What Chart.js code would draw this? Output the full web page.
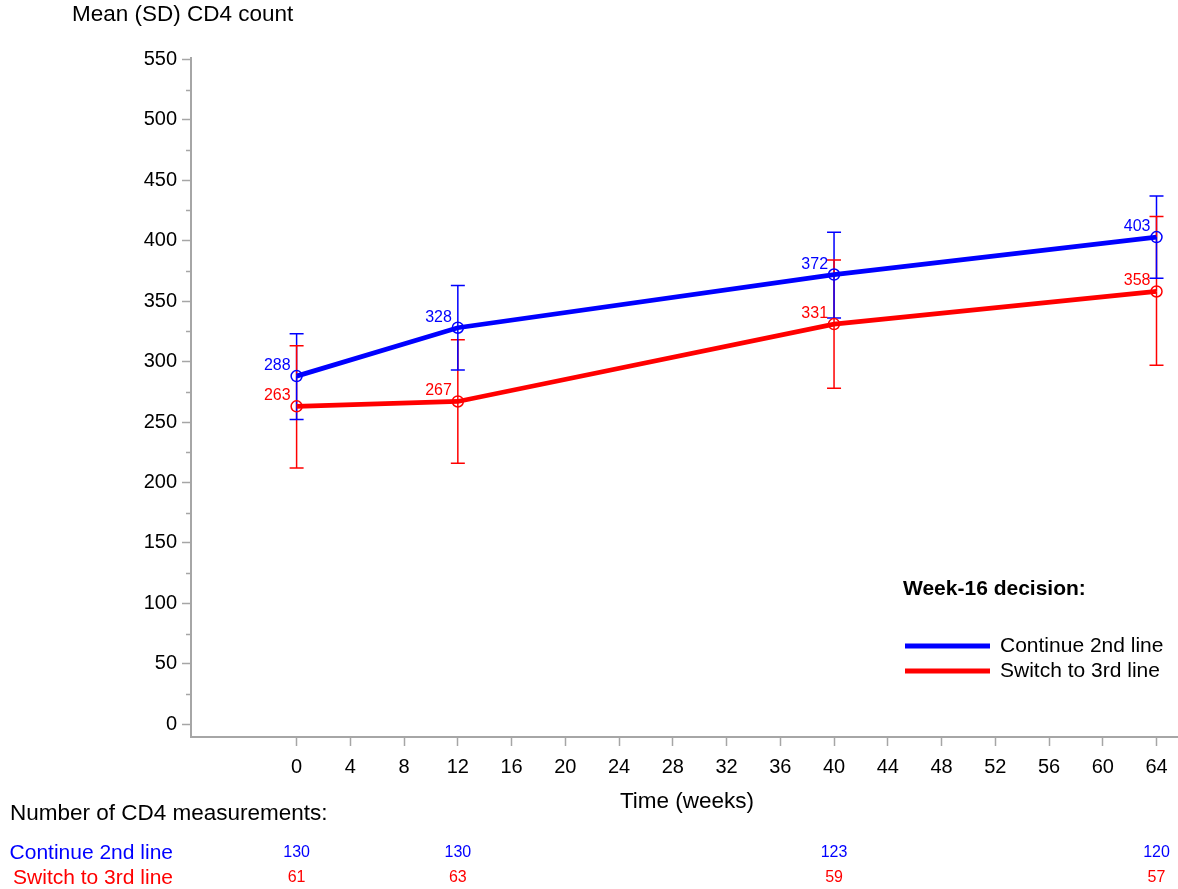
<!DOCTYPE html>
<html>
<head>
<meta charset="utf-8">
<script src="https://cdn.jsdelivr.net/npm/chart.js@4.4.1/dist/chart.umd.min.js"></script>
<style>
  html, body { margin: 0; padding: 0; background: #fff; overflow: hidden; }
  #wrap { width: 1178px; height: 889px; position: relative; }
  canvas { display: block; }
</style>
</head>
<body>
<div id="wrap"><canvas id="c" width="1178" height="889"></canvas></div>
<script>
// ---- Data ----
const weeks = [0, 12, 40, 64];
const seriesNames = ['Continue 2nd line', 'Switch to 3rd line'];
const continueMean = [288, 328, 372, 403];
const continueUpper = [323, 363, 407, 437];
const continueLower = [252, 293, 336, 369];
const switchMean = [263, 267, 331, 358];
const switchUpper = [313, 318, 384, 420];
const switchLower = [212, 216, 278, 297];
const continueN = [130, 130, 123, 120];
const switchN = [61, 63, 59, 57];
const xTickValues = [0, 4, 8, 12, 16, 20, 24, 28, 32, 36, 40, 44, 48, 52, 56, 60, 64];
const yTickValues = [0, 25, 50, 75, 100, 125, 150, 175, 200, 225, 250, 275, 300, 325, 350, 375, 400, 425, 450, 475, 500, 525, 550];
const yLabelStep = 50;

const BLUE = '#0000ff';
const RED = '#ff0000';
const AXIS = '#a6a6a6';
const FONT = '"Liberation Sans", Arial, Helvetica, sans-serif';

Chart.defaults.font.family = FONT;
Chart.defaults.color = '#000';

const toPts = (xs, ys) => xs.map((x, i) => ({ x: x, y: ys[i] }));

const series = [
  { name: seriesNames[0], color: BLUE, mean: continueMean, upper: continueUpper, lower: continueLower, n: continueN },
  { name: seriesNames[1], color: RED, mean: switchMean, upper: switchUpper, lower: switchLower, n: switchN }
];

const decorPlugin = {
  id: 'decor',
  beforeDatasetsDraw(chart) {
    const ctx = chart.ctx;
    const xs = chart.scales.x, ys = chart.scales.y;
    ctx.save();
    ctx.lineWidth = 1.5;
    const cap = 7;
    const order = [[0, 'upper'], [1, 'upper'], [1, 'lower'], [0, 'lower']];
    order.forEach(([si, half]) => {
      const s = series[si];
      ctx.strokeStyle = s.color;
      weeks.forEach((w, i) => {
        const px = xs.getPixelForValue(w);
        const pm = ys.getPixelForValue(s.mean[i]);
        const pe = ys.getPixelForValue(half === 'upper' ? s.upper[i] : s.lower[i]);
        ctx.beginPath();
        ctx.moveTo(px, pm);
        ctx.lineTo(px, pe);
        ctx.moveTo(px - cap, pe);
        ctx.lineTo(px + cap, pe);
        ctx.stroke();
      });
    });
    ctx.restore();
  },
  afterDraw(chart) {
    const ctx = chart.ctx;
    const xs = chart.scales.x, ys = chart.scales.y;
    const area = chart.chartArea;
    ctx.save();
    // minor y ticks
    ctx.strokeStyle = AXIS;
    ctx.lineWidth = 1.5;
    yTickValues.forEach(v => {
      if (v % yLabelStep !== 0) {
        const py = Math.round(ys.getPixelForValue(v)) + 0.5;
        ctx.beginPath();
        ctx.moveTo(area.left - 5, py);
        ctx.lineTo(area.left, py);
        ctx.stroke();
      }
    });

    // data labels
    ctx.font = '16px ' + FONT;
    ctx.textAlign = 'right';
    ctx.textBaseline = 'alphabetic';
    series.forEach(s => {
      ctx.fillStyle = s.color;
      weeks.forEach((w, i) => {
        const px = xs.getPixelForValue(w);
        const py = ys.getPixelForValue(s.mean[i]);
        ctx.fillText(String(s.mean[i]), px - 6, py - 6);
      });
    });

    // y axis title
    ctx.fillStyle = '#000';
    ctx.textAlign = 'left';
    ctx.textBaseline = 'middle';
    ctx.font = '22.5px ' + FONT;
    ctx.fillText('Mean (SD) CD4 count', 72, 15);

    // x axis title
    ctx.textAlign = 'center';
    ctx.fillText('Time (weeks)', 687, 802);

    // numbers table
    ctx.textAlign = 'left';
    ctx.fillText('Number of CD4 measurements:', 10, 814);
    const rowY = [853, 878];
    series.forEach((s, si) => {
      ctx.fillStyle = s.color;
      ctx.font = '21px ' + FONT;
      ctx.textAlign = 'right';
      ctx.fillText(s.name, 173, rowY[si]);
      ctx.font = '16px ' + FONT;
      ctx.textAlign = 'center';
      weeks.forEach((w, i) => {
        ctx.fillText(String(s.n[i]), xs.getPixelForValue(w), rowY[si]);
      });
    });

    // legend
    ctx.fillStyle = '#000';
    ctx.textAlign = 'left';
    ctx.font = 'bold 21px ' + FONT;
    ctx.fillText('Week-16 decision:', 903, 589);
    const legY = [646, 671];
    series.forEach((s, si) => {
      ctx.strokeStyle = s.color;
      ctx.lineWidth = 5;
      ctx.beginPath();
      ctx.moveTo(905, legY[si]);
      ctx.lineTo(990, legY[si]);
      ctx.stroke();
      ctx.fillStyle = '#000';
      ctx.font = '21px ' + FONT;
      ctx.fillText(s.name, 1000, legY[si]);
    });
    ctx.restore();
  }
};

new Chart(document.getElementById('c'), {
  type: 'line',
  data: {
    datasets: series.map(s => ({
      label: s.name,
      data: toPts(weeks, s.mean),
      borderColor: s.color,
      backgroundColor: s.color,
      borderWidth: 4.8,
      pointRadius: 5.5,
      pointBorderWidth: 1.5,
      pointBorderColor: s.color,
      pointBackgroundColor: 'rgba(0,0,0,0)',
      tension: 0,
      clip: false
    }))
  },
  options: {
    responsive: false,
    animation: false,
    layout: { autoPadding: false, padding: { top: 57.5, right: 0, bottom: 0, left: 0 } },
    plugins: { legend: { display: false }, title: { display: false }, tooltip: { enabled: false } },
    scales: {
      x: {
        type: 'linear',
        min: -7.86,
        max: 65.6,
        afterFit(scale) { scale.height = 152; scale.paddingRight = 0; scale.paddingLeft = 0; },
        afterBuildTicks(scale) { scale.ticks = xTickValues.map(v => ({ value: v })); },
        grid: { display: true, drawOnChartArea: false, drawTicks: true, tickLength: 9, tickColor: AXIS, tickWidth: 1.5 },
        border: { display: true, color: AXIS, width: 2 },
        ticks: { font: { size: 20 }, color: '#000', padding: 9, maxRotation: 0, autoSkip: false }
      },
      y: {
        type: 'linear',
        min: -10.5,
        max: 551.5,
        afterFit(scale) { scale.width = 191; scale.paddingTop = 0; scale.paddingBottom = 0; },
        afterBuildTicks(scale) { scale.ticks = yTickValues.map(v => ({ value: v })); },
        grid: {
          display: true, drawOnChartArea: false, drawTicks: true, tickLength: 9, tickWidth: 1.5,
          tickColor: (c) => (c.tick && c.tick.value % yLabelStep === 0) ? AXIS : 'rgba(0,0,0,0)'
        },
        border: { display: true, color: AXIS, width: 2 },
        ticks: {
          font: { size: 20 }, color: '#000', padding: 5, autoSkip: false,
          callback: (v) => (v % yLabelStep === 0 ? String(v) : '')
        }
      }
    }
  },
  plugins: [decorPlugin]
});
</script>
</body>
</html>
